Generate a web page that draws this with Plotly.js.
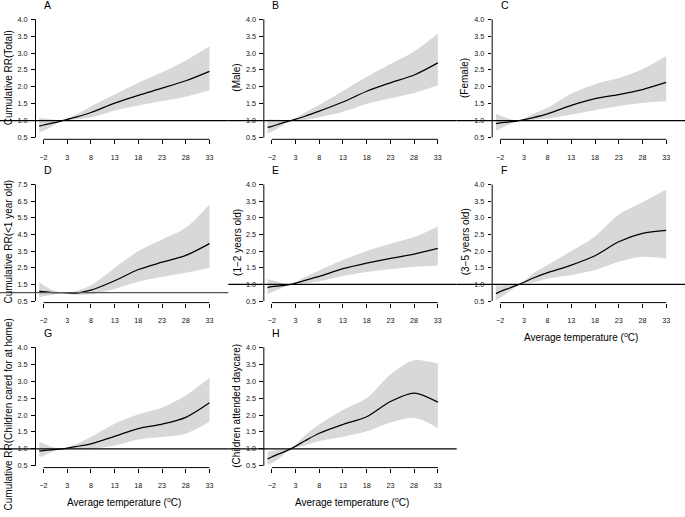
<!DOCTYPE html>
<html>
<head>
<meta charset="utf-8">
<script src="https://cdn.plot.ly/plotly-3.0.1.min.js"></script>
<style>html,body{margin:0;padding:0;background:#fff;}#chart{width:685px;height:517px;}</style>
</head>
<body>
<div id="chart"></div>
<script>
// ---- data ----
const temps = [-2.9, -2, 0, 2, 5, 8, 13, 18, 23, 28, 33];
const xTicks = [-2, 3, 8, 13, 18, 23, 28, 33];
const yTicks4 = [0.5, 1.0, 1.5, 2.0, 2.5, 3.0, 3.5, 4.0];
const yTicks75 = [0.5, 1.5, 2.5, 3.5, 4.5, 5.5, 6.5, 7.5];
const refRR = 1;
const panelLetters = ['A', 'B', 'C', 'D', 'E', 'F', 'G', 'H'];
const yTitles = ['Cumulative RR(Total)', '(Male)', '(Female)', 'Cumulative RR(&lt;1 year old)',
  '(1\u22122 years old)', '(3\u22125 years old)', 'Cumulative RR(Children cared for at home)', '(Children attended daycare)'];
const xTitle = 'Average temperature (<sup>o</sup>C)';

const rrA = [0.84, 0.87, 0.93, 1.0, 1.11, 1.24, 1.52, 1.75, 1.96, 2.18, 2.46];
const loA = [0.65, 0.70, 0.84, 1.0, 1.04, 1.09, 1.30, 1.45, 1.58, 1.71, 1.90];
const hiA = [1.08, 1.07, 1.03, 1.0, 1.19, 1.42, 1.77, 2.12, 2.43, 2.78, 3.20];

const rrB = [0.80, 0.83, 0.92, 1.0, 1.13, 1.28, 1.55, 1.87, 2.12, 2.35, 2.71];
const loB = [0.62, 0.67, 0.83, 1.0, 1.02, 1.10, 1.26, 1.49, 1.66, 1.82, 2.05];
const hiB = [1.04, 1.03, 1.02, 1.0, 1.24, 1.47, 1.88, 2.30, 2.68, 3.05, 3.58];

const rrC = [0.91, 0.93, 0.96, 1.0, 1.09, 1.20, 1.45, 1.65, 1.77, 1.92, 2.13];
const loC = [0.70, 0.76, 0.90, 1.0, 1.02, 1.06, 1.18, 1.31, 1.43, 1.52, 1.57];
const hiC = [1.20, 1.15, 1.05, 1.0, 1.20, 1.38, 1.80, 2.08, 2.26, 2.52, 2.91];

const rrD = [1.10, 1.06, 1.01, 1.0, 0.98, 1.15, 1.72, 2.39, 2.83, 3.24, 3.95];
const loD = [0.72, 0.78, 0.88, 1.0, 0.87, 0.90, 1.22, 1.65, 1.95, 2.20, 2.50];
const hiD = [1.66, 1.45, 1.16, 1.0, 1.12, 1.45, 2.49, 3.50, 4.20, 4.90, 6.30];

const rrE = [0.90, 0.93, 0.96, 1.0, 1.12, 1.24, 1.47, 1.64, 1.78, 1.91, 2.08];
const loE = [0.70, 0.76, 0.88, 1.0, 1.03, 1.09, 1.25, 1.37, 1.46, 1.53, 1.56];
const hiE = [1.15, 1.12, 1.05, 1.0, 1.22, 1.42, 1.73, 2.00, 2.22, 2.42, 2.74];

const rrF = [0.72, 0.78, 0.89, 1.0, 1.19, 1.35, 1.58, 1.86, 2.28, 2.53, 2.62];
const loF = [0.53, 0.59, 0.79, 1.0, 1.06, 1.17, 1.28, 1.43, 1.68, 1.83, 1.78];
const hiF = [0.98, 0.96, 0.99, 1.0, 1.33, 1.58, 2.00, 2.44, 3.10, 3.47, 3.85];

const rrG = [0.94, 0.95, 0.98, 1.0, 1.07, 1.15, 1.37, 1.60, 1.73, 1.93, 2.36];
const loG = [0.76, 0.79, 0.92, 1.0, 0.99, 1.00, 1.10, 1.28, 1.35, 1.45, 1.80];
const hiG = [1.20, 1.16, 1.05, 1.0, 1.15, 1.35, 1.74, 2.02, 2.22, 2.58, 3.10];

const rrH = [0.70, 0.76, 0.88, 1.0, 1.24, 1.46, 1.72, 1.95, 2.40, 2.65, 2.38];
const loH = [0.52, 0.58, 0.77, 1.0, 1.10, 1.23, 1.36, 1.52, 1.78, 1.92, 1.62];
const hiH = [0.91, 0.94, 0.98, 1.0, 1.40, 1.72, 2.15, 2.50, 3.20, 3.62, 3.52];

// ---- layout geometry ----
const W = 685, H = 517;
const FONT = 'Liberation Sans, Arial, Helvetica, sans-serif';
const colW = W / 3;
const rows = [
  {top: 19.3, bot: 137.5, axis: 139.3},
  {top: 184.5, bot: 301.0, axis: 302.6},
  {top: 347.3, bot: 465.8, axis: 467.6}
];
const panels = [
  {rr: rrA, lo: loA, hi: hiA, yt: yTicks4, row: 0, col: 0},
  {rr: rrB, lo: loB, hi: hiB, yt: yTicks4, row: 0, col: 1},
  {rr: rrC, lo: loC, hi: hiC, yt: yTicks4, row: 0, col: 2},
  {rr: rrD, lo: loD, hi: hiD, yt: yTicks75, row: 1, col: 0, refColor: '#555555'},
  {rr: rrE, lo: loE, hi: hiE, yt: yTicks4, row: 1, col: 1},
  {rr: rrF, lo: loF, hi: hiF, yt: yTicks4, row: 1, col: 2, xt: true},
  {rr: rrG, lo: loG, hi: hiG, yt: yTicks4, row: 2, col: 0, xt: true, titleShift: 9},
  {rr: rrH, lo: loH, hi: hiH, yt: yTicks4, row: 2, col: 1, xt: true}
];

const traces = [];
const layout = {
  width: W, height: H,
  margin: {l: 0, r: 0, t: 0, b: 0},
  paper_bgcolor: '#ffffff', plot_bgcolor: 'rgba(0,0,0,0)',
  showlegend: false,
  font: {family: FONT, color: '#000000'},
  shapes: [], annotations: []
};

const kx = 166 / 35; // px per degree
panels.forEach((p, i) => {
  const n = i + 1;
  const xa = n === 1 ? 'x' : 'x' + n;
  const ya = n === 1 ? 'y' : 'y' + n;
  const off = p.col * colW;
  const r = rows[p.row];
  const yTop = p.yt[p.yt.length - 1], yBot = p.yt[0];
  const ky = (r.bot - r.top) / (yTop - yBot);
  const xFirst = xTicks[0], xLast = xTicks[xTicks.length - 1];
  const leftPx = 35.5 + off, rightPx = 214 + off, firstTickPx = 43.5 + off;
  const xmin = xFirst - (firstTickPx - leftPx) / kx;
  const xmax = xLast + (rightPx - (firstTickPx + (xLast - xFirst) * kx)) / kx;
  const ymin = yBot - (r.axis - r.bot) / ky;
  const ymax = yTop + 3 / ky;

  layout[n === 1 ? 'xaxis' : 'xaxis' + n] = {
    domain: [leftPx / W, rightPx / W], range: [xmin, xmax], anchor: ya,
    showgrid: false, zeroline: false, showline: false,
    tickmode: 'array', tickvals: xTicks, ticks: 'outside', ticklen: 4, tickwidth: 1, tickcolor: '#000',
    tickfont: {size: 7.2, family: FONT, color: '#111'}, ticklabelstandoff: 7, fixedrange: true
  };
  layout[n === 1 ? 'yaxis' : 'yaxis' + n] = {
    domain: [1 - r.axis / H, 1 - (r.top - 3) / H], range: [ymin, ymax], anchor: xa,
    showgrid: false, zeroline: false, showline: false,
    tickmode: 'array', tickvals: p.yt, tickformat: '.1f', ticks: 'outside', ticklen: 3.5, tickwidth: 1, tickcolor: '#000',
    tickfont: {size: 7.2, family: FONT, color: '#111'}, ticklabelstandoff: 2, fixedrange: true
  };

  traces.push({x: temps, y: p.lo, xaxis: xa, yaxis: ya, type: 'scatter', mode: 'lines',
    line: {width: 0, shape: 'spline', smoothing: 0.8}, hoverinfo: 'skip'});
  traces.push({x: temps, y: p.hi, xaxis: xa, yaxis: ya, type: 'scatter', mode: 'lines', fill: 'tonexty',
    fillcolor: '#d8d8d8', line: {width: 0, shape: 'spline', smoothing: 0.8}, hoverinfo: 'skip'});
  traces.push({x: temps, y: p.rr, xaxis: xa, yaxis: ya, type: 'scatter', mode: 'lines',
    line: {color: '#000', width: 1.25, shape: 'spline', smoothing: 0.8}});

  // R-style axis lines spanning first..last tick
  layout.shapes.push({type: 'line', xref: xa, yref: ya + ' domain', x0: xFirst, x1: xLast, y0: 0, y1: 0,
    line: {color: '#000', width: 1}});
  layout.shapes.push({type: 'line', xref: xa + ' domain', yref: ya, x0: 0, x1: 0, y0: yBot, y1: yTop,
    line: {color: '#000', width: 1}});
  // reference line RR = 1 across the figure cell
  layout.shapes.push({type: 'line', xref: 'paper', yref: ya, x0: off / W, x1: (off + colW) / W, y0: refRR, y1: refRR,
    line: {color: p.refColor || '#000', width: 1.2}});

  // panel letter
  layout.annotations.push({text: panelLetters[i], xref: 'paper', yref: 'paper', showarrow: false,
    x: (firstTickPx - 1.5) / W, y: 1 - (r.top - 14.5) / H, xanchor: 'left', yanchor: 'middle',
    font: {size: 10.5, family: FONT, color: '#000'}});
  // y title
  const yc = (r.axis + r.top - 3) / 2 + (p.titleShift || 0);
  layout.annotations.push({text: yTitles[i], xref: 'paper', yref: 'paper', showarrow: false, textangle: -90,
    x: (off + 8.5) / W, y: 1 - yc / H, xanchor: 'center', yanchor: 'middle',
    font: {size: 10, family: FONT, color: '#000'}});
  if (p.xt) {
    layout.annotations.push({text: xTitle, xref: 'paper', yref: 'paper', showarrow: false,
      x: (off + 124) / W, y: 1 - (r.axis + 34) / H, xanchor: 'center', yanchor: 'middle',
      font: {size: 10, family: FONT, color: '#000'}});
  }
});

Plotly.newPlot('chart', traces, layout, {displayModeBar: false, staticPlot: true});
</script>
</body>
</html>
